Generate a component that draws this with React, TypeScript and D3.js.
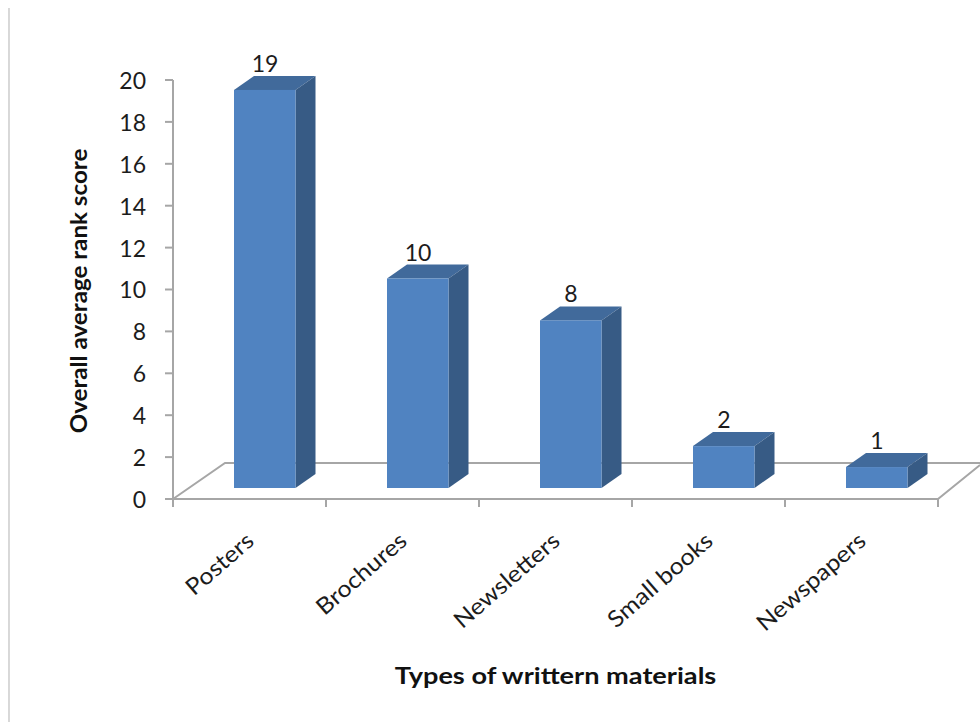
import React from "react";
import * as d3 from "d3";

const categories = ["Posters", "Brochures", "Newsletters", "Small books", "Newspapers"];
const scores = [19, 10, 8, 2, 1];
const yTicks = [0, 2, 4, 6, 8, 10, 12, 14, 16, 18, 20];
const yTitle = "Overall average rank score";
const xTitle = "Types of writtern materials";

const W = 980;
const H = 722;
const FONT = "Lato, 'Open Sans', sans-serif";
const GRID = "#a6a6a6";
const FRONT = "#5083c1";
const TOP = "#416a9b";
const SIDE = "#375b85";
const INK = "#1c1c1c";

// Oblique projection of the bar depth.
const DX = 20;
const DY = -14;

const y = d3.scaleLinear().domain([0, 20]).range([499, 80]);
const x = d3.scaleBand<string>().domain(categories).range([173, 938]);
const BAR_W = 61.5;
const BAR_INSET = 61;
const BAR_FLOOR = 488;
const unit = y(0) - y(1);

export default function App() {
  const edges = [0, 1, 2, 3, 4, 5].map((i) => 173 + i * x.step());
  const path = d3.line();
  return (
    <svg
      width={W}
      height={H}
      viewBox={`0 0 ${W} ${H}`}
      style={{ position: "absolute", left: 0, top: 0, background: "#fff" }}
      fontFamily={FONT}
    >
      <line x1={9} x2={9} y1={8} y2={H} stroke="#c4c4c4" strokeWidth={1.3} />

      {/* floor and axes */}
      <g fill="none" stroke={GRID} strokeWidth={2}>
        <path d={path([[173, 499], [225, 463], [W, 463]]) ?? ""} />
        <path d={path([[173, 499], [938, 499], [W, 465]]) ?? ""} />
        <path d={path([[173, 80], [173, 507]]) ?? ""} />
        {yTicks.map((t) => (
          <line key={t} x1={165} x2={173} y1={y(t)} y2={y(t)} />
        ))}
        {edges.map((e) => (
          <line key={e} x1={e} x2={e} y1={499} y2={507} />
        ))}
      </g>

      {yTicks.map((t) => (
        <text
          key={t}
          x={146}
          y={y(t)}
          dy="0.39em"
          fontSize={23}
          textAnchor="end"
          fill={INK}
        >
          {t}
        </text>
      ))}

      {/* bars */}
      {categories.map((c, i) => {
        const left = (x(c) ?? 0) + BAR_INSET;
        const right = left + BAR_W;
        const top = BAR_FLOOR - scores[i] * unit;
        return (
          <g key={c}>
            <path
              d={`${path([[left, top], [left + DX, top + DY], [right + DX, top + DY], [right, top]])}Z`}
              fill={TOP}
            />
            <path
              d={`${path([[right, top], [right + DX, top + DY], [right + DX, BAR_FLOOR + DY], [right, BAR_FLOOR]])}Z`}
              fill={SIDE}
            />
            <rect x={left} y={top} width={BAR_W} height={BAR_FLOOR - top} fill={FRONT} />
            <text x={left + 31} y={top + DY - 4} fontSize={23} textAnchor="middle" fill={INK}>
              {scores[i]}
            </text>
            <text
              transform={`translate(${(x(c) ?? 0) + 72},531) rotate(-41) scale(1.09,1)`}
              fontSize={23}
              textAnchor="end"
              dy="0.7em"
              fill={INK}
            >
              {c}
            </text>
          </g>
        );
      })}

      <text
        transform="translate(87,291) rotate(-90) scale(1.1,1)"
        fontSize={22}
        fontWeight="bold"
        textAnchor="middle"
        fill="#111"
      >
        {yTitle}
      </text>
      <text
        transform="translate(555.5,684) scale(1.18,1)"
        fontSize={23}
        fontWeight="bold"
        textAnchor="middle"
        fill="#111"
      >
        {xTitle}
      </text>
    </svg>
  );
}
